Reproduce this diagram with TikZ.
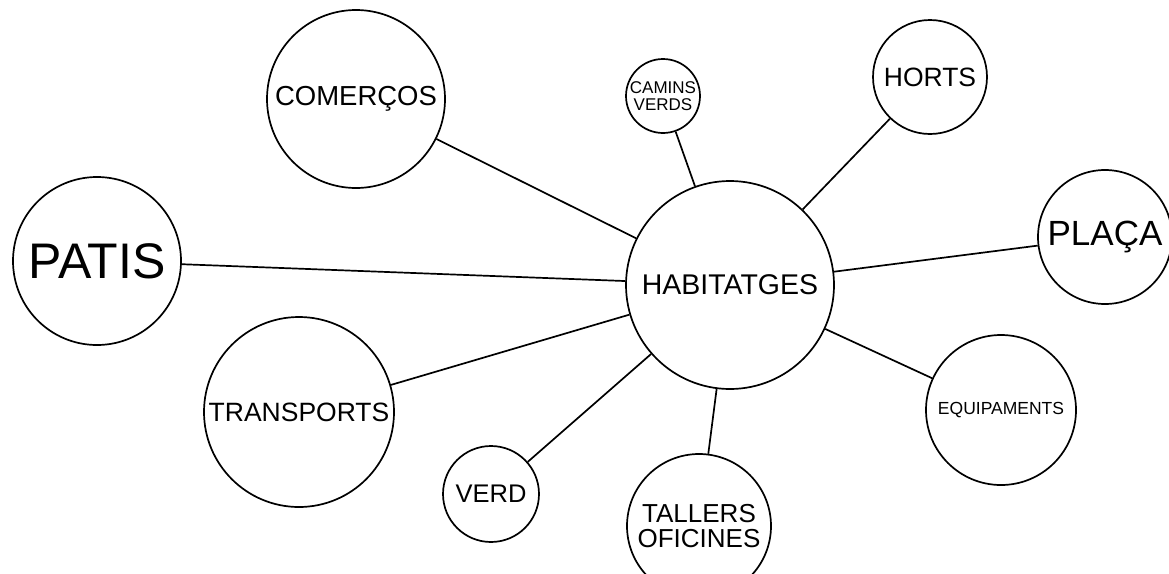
\documentclass[tikz,border=0pt]{standalone}
\usepackage{fontspec}
\setmainfont{Liberation Sans}
\newcommand{\fsz}[1]{\fontsize{#1}{#1}\selectfont}
\begin{document}
\begin{tikzpicture}[x=1pt,y=-1pt,
  bubble/.style={circle, draw, line width=1.7pt, inner sep=0pt, align=center, fill=white},
  link/.style={line width=1.7pt}]
\clip (0,0) rectangle (1169,573);
\fill[white] (0,0) rectangle (1169,573);
\node[bubble, minimum size=208pt, font=\fsz{28.5}] (hab) at (730,285) {HABITATGES};
\node[bubble, minimum size=178pt, font=\fsz{27.5}] (com) at (356,99) {COMERÇOS};
\node[bubble, minimum size=74pt, font=\fontsize{17}{17.5}\selectfont] (cam) at (663,96) {CAMINS\\VERDS};
\node[bubble, minimum size=114pt, font=\fsz{26.5}] (hor) at (930,77) {HORTS};
\node[bubble, minimum size=134pt, font=\fsz{35}] (pla) at (1105,237) {PLAÇA};
\node[bubble, minimum size=168pt, font=\fsz{50}] (pat) at (97,261) {PATIS};
\node[bubble, minimum size=190pt, font=\fsz{26.5}] (tra) at (299,412) {TRANSPORTS};
\node[bubble, minimum size=96pt, font=\fsz{25.5}] (ver) at (491,494) {VERD};
\node[bubble, minimum size=144pt, font=\fontsize{26}{25}\selectfont] (tal) at (699,526) {TALLERS\\OFICINES};
\node[bubble, minimum size=150pt, font=\fontsize{17.5}{17.5}\selectfont] (equ) at (1001,410) {EQUIPAMENTS};
\foreach \n in {com,cam,hor,pla,pat,tra,ver,tal,equ}
  \draw[link] (hab) -- (\n);
\end{tikzpicture}
\end{document}
